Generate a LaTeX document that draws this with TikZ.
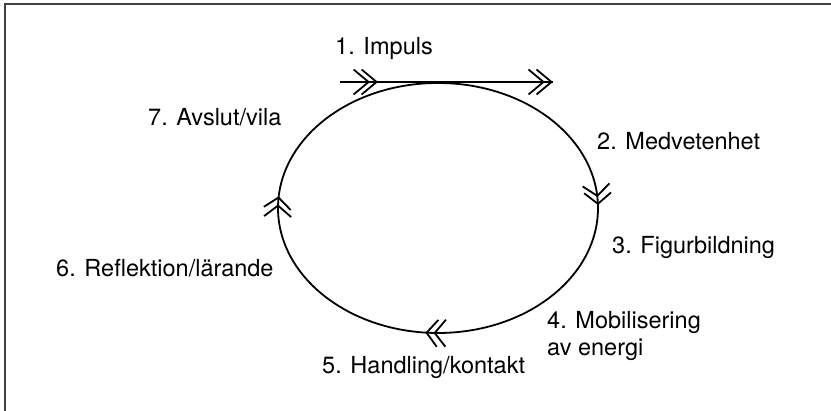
\documentclass[tikz,border=0pt]{standalone}
\usepackage{fontspec}
\setmainfont{TeX Gyre Heros}
\usetikzlibrary{arrows.meta,decorations.markings}

\tikzset{
  lbl/.style={anchor=base west, inner sep=0pt, font=\fontsize{23.5}{28}\selectfont},
  chev/.tip={Straight Barb[length=11pt,width=27pt,line width=1.8pt]},
  chevh/.tip={Straight Barb[length=15pt,width=25pt,line width=1.8pt]},
  stroke/.style={line width=1.8pt, black},
}

\begin{document}
\begin{tikzpicture}[x=1pt,y=1pt]
  \useasboundingbox (0,0) rectangle (831,411);

  % frame: top and left edges only
  \draw[line width=2pt, black!75] (5,0) -- (5,407) -- (831,407);

  % the cycle, running clockwise
  \coordinate (c) at (438,203);
  \draw[stroke, postaction={decorate, decoration={markings,
      mark=at position 3pt with {\arrowreversed{chev}},
      mark=at position 11pt with {\arrowreversed{chev}},
      mark=at position 0.487 with {\arrowreversed{chev}},
      mark=at position 0.496 with {\arrowreversed{chev}},
      mark=at position 0.736 with {\arrowreversed{chev}},
      mark=at position 0.745 with {\arrowreversed{chev}}}}]
    (c) ellipse [x radius=160, y radius=125];

  % tangent impulse arrow
  \coordinate (a) at (340,329);
  \coordinate (b) at (553,329);
  \draw[stroke, postaction={decorate, decoration={markings,
      mark=at position 30pt with {\arrow{chevh}},
      mark=at position 38pt with {\arrow{chevh}},
      mark=at position -8.1pt with {\arrow{chevh}},
      mark=at position -0.1pt with {\arrow{chevh}}}}]
    (a) -- (b);

  % stage labels
  \node[lbl] (l1) at (335,356) {1. Impuls};
  \node[lbl] (l2) at (597,261) {2. Medvetenhet};
  \node[lbl] (l3) at (612,157) {3. Figurbildning};
  \node[lbl] (l4) at (547,82) {4. Mobilisering};
  \node[lbl] (l4b) at (547,55) {av energi};
  \node[lbl] (l5) at (322,37) {5. Handling/kontakt};
  \node[lbl] (l6) at (56,134) {6. Reflektion/lärande};
  \node[lbl] (l7) at (148,285) {7. Avslut/vila};
\end{tikzpicture}
\end{document}
